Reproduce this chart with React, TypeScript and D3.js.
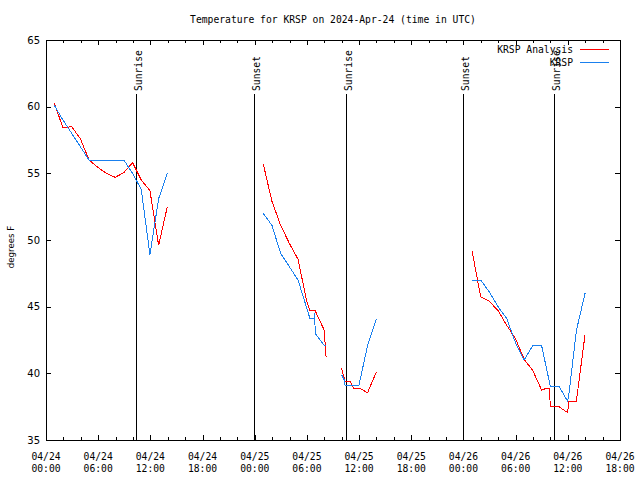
import React from "react";
import * as d3 from "d3";

const chartTitle = "Temperature for KRSP on 2024-Apr-24 (time in UTC)";
const yAxisLabel = "degrees F";
const seriesNames = ["KRSP Analysis", "KRSP"];
const seriesColors = ["#ff0000", "#1a80ee"];

// hours since 2024-04-24 00:00 UTC; null temperature = gap in the record
const analysisHours = [
  0.95, 1.95, 2.95, 3.95, 4.95, 5.95, 6.95, 7.95, 8.95, 9.95, 10.95, 11.95, 12.95, 13.95,
  19,
  24.98, 25.98, 26.98, 27.98, 28.98, 29.98, 30.35, 30.95, 31.98, 32.2,
  33,
  33.98, 34.3, 34.38, 34.98, 35.35, 35.98, 36.98, 37.98,
  43,
  48.98, 49.98, 50.98, 51.98, 52.98, 53.98, 54.98, 55.98, 56.98, 57.45, 57.9, 57.98, 58.98, 59.98, 60.1, 60.98, 61.98,
];
const analysisTemps = [
  60.3, 58.4, 58.5, 57.6, 56.0, 55.45, 55.0, 54.7, 55.05, 55.8, 54.5, 53.7, 49.6, 52.5,
  null,
  55.7, 52.9, 51.1, 49.75, 48.55, 45.4, 44.7, 44.7, 43.25, 41.25,
  null,
  40.4, 39.6, 39.4, 39.4, 38.9, 38.9, 38.55, 40.1,
  null,
  49.2, 45.75, 45.4, 44.7, 43.6, 42.6, 41.05, 40.2, 38.75, 38.85, 38.85, 37.5, 37.5, 37.05, 37.9, 37.9, 42.9,
];

const obsHours = [
  0.95, 1.95, 2.95, 3.95, 4.95, 5.95, 6.95, 7.95, 8.95, 9.95, 10.95, 11.95, 12.95, 13.95,
  19,
  24.98, 25.98, 26.98, 27.98, 28.98, 29.98, 30.35, 30.84, 30.9, 30.95, 31.98, 32.2,
  33,
  33.98, 34.3, 34.38, 34.98, 35.98, 36.98, 37.98,
  43,
  48.98, 49.98, 50.98, 51.98, 52.98, 53.98, 54.98, 55.98, 56.98, 57.98, 58.98, 59.98, 60.1, 60.98, 61.98,
];
const obsTemps = [
  60.1, 59.0, 58.0, 57.0, 56.0, 56.0, 56.0, 56.0, 56.0, 55.0, 53.8, 48.9, 53.1, 55.0,
  null,
  52.0, 51.1, 49.0, 48.0, 47.0, 44.9, 44.1, 44.1, 44.55, 43.0, 42.1, 42.1,
  null,
  39.9, 39.5, 39.1, 39.1, 39.1, 42.1, 44.1,
  null,
  47.0, 47.0, 46.1, 45.0, 44.1, 42.3, 41.0, 42.1, 42.1, 39.05, 39.05, 37.9, 38.3, 43.2, 46.0,
];

const sunEventNames = ["Sunrise", "Sunset", "Sunrise", "Sunset", "Sunrise"];
const sunEventHours = [10.35, 23.92, 34.49, 47.95, 58.41];

const yTickValues = [35, 40, 45, 50, 55, 60, 65];

const MONO = "'DejaVu Sans Mono', 'Liberation Mono', monospace";
const SANS = "'DejaVu Sans', Verdana, sans-serif";

export default function App() {
  const W = 640;
  const H = 480;
  const left = 46;
  const right = 620;
  const top = 40;
  const bottom = 440;

  const t0 = Date.UTC(2024, 3, 24, 0, 0);
  const toDate = (h: number) => new Date(t0 + h * 3600e3);
  const x = d3.scaleUtc().domain([toDate(0), toDate(66)]).range([left, right]);
  const y = d3.scaleLinear().domain([35, 65]).range([bottom, top]);

  const minorTicks = x.ticks(d3.utcHour.every(2) as any);
  const majorTicks = x.ticks(d3.utcHour.every(6) as any);
  const fmtDay = d3.utcFormat("%m/%d");
  const fmtTime = d3.utcFormat("%H:%M");

  const px = (v: number) => Math.round(v) + 0.5;

  type P = { h: number; v: number | null };
  const line = d3
    .line<P>()
    .defined((d) => d.v != null)
    .x((d) => x(toDate(d.h)))
    .y((d) => y(d.v as number));

  const analysisPts: P[] = analysisHours.map((h, i) => ({ h, v: analysisTemps[i] }));
  const obsPts: P[] = obsHours.map((h, i) => ({ h, v: obsTemps[i] }));

  const majorLen = 5;
  const minorLen = 3;

  return (
    <svg
      width={W}
      height={H}
      style={{ position: "absolute", left: 0, top: 0, background: "#fff" }}
    >
      <rect x={0} y={0} width={W} height={H} fill="#fff" />
      {/* title */}
      <text
        x={(left + right) / 2}
        y={23}
        textAnchor="middle"
        fontFamily={MONO}
        fontSize={9.7}
        fill="#000"
      >
        {chartTitle}
      </text>

      {/* x ticks (bottom and top) */}
      <g stroke="#000" shapeRendering="crispEdges">
        {minorTicks.map((d, i) => {
          const isMajor = d.getUTCHours() % 6 === 0;
          const len = isMajor ? majorLen : minorLen;
          const xx = px(x(d));
          return (
            <g key={"xt" + i}>
              <line x1={xx} x2={xx} y1={bottom} y2={bottom - len} />
              <line x1={xx} x2={xx} y1={top} y2={top + len} />
            </g>
          );
        })}
        {yTickValues.map((v, i) => {
          const yy = px(y(v));
          return (
            <g key={"yt" + i}>
              <line x1={left} x2={left + majorLen} y1={yy} y2={yy} />
              <line x1={right} x2={right - majorLen} y1={yy} y2={yy} />
            </g>
          );
        })}
      </g>

      {/* x tick labels */}
      <g fontFamily={MONO} fontSize={9.7} fill="#000" textAnchor="middle">
        {majorTicks.map((d, i) => (
          <g key={"xl" + i}>
            <text x={x(d)} y={460}>
              {fmtDay(d)}
            </text>
            <text x={x(d)} y={472}>
              {fmtTime(d)}
            </text>
          </g>
        ))}
      </g>

      {/* y tick labels */}
      <g fontFamily={SANS} fontSize={10} fill="#000" textAnchor="end">
        {yTickValues.map((v, i) => (
          <text key={"yl" + i} x={40} y={y(v) + 3.6}>
            {v}
          </text>
        ))}
      </g>

      {/* y axis label */}
      <text
        transform={`translate(14,${247}) rotate(-90)`}
        textAnchor="middle"
        fontFamily={SANS}
        fontSize={8.6}
        fill="#000"
      >
        {yAxisLabel}
      </text>

      {/* sunrise / sunset markers */}
      {sunEventHours.map((h, i) => {
        const xx = px(x(toDate(h)));
        return (
          <g key={"sun" + i}>
            <line
              x1={xx}
              x2={xx}
              y1={94}
              y2={bottom}
              stroke="#000"
              shapeRendering="crispEdges"
            />
            <text
              transform={`translate(${xx + 5},91) rotate(-90)`}
              fontFamily={MONO}
              fontSize={9.7}
              fill="#000"
            >
              {sunEventNames[i]}
            </text>
          </g>
        );
      })}

      {/* data lines */}
      <path
        d={line(analysisPts) || ""}
        fill="none"
        stroke={seriesColors[0]}
        strokeWidth={1}
        shapeRendering="crispEdges"
      />
      <path
        d={line(obsPts) || ""}
        fill="none"
        stroke={seriesColors[1]}
        strokeWidth={1}
        shapeRendering="crispEdges"
      />

      {/* legend */}
      {seriesNames.map((name, i) => {
        const ly = 49 + i * 13;
        return (
          <g key={"lg" + i}>
            <text
              x={573}
              y={ly + 4}
              textAnchor="end"
              fontFamily={MONO}
              fontSize={9.7}
              fill="#000"
            >
              {name}
            </text>
            <line
              x1={580}
              x2={609}
              y1={ly + 0.5}
              y2={ly + 0.5}
              stroke={seriesColors[i]}
              shapeRendering="crispEdges"
            />
          </g>
        );
      })}

      {/* border */}
      <rect
        x={left + 0.5}
        y={top + 0.5}
        width={right - left}
        height={bottom - top}
        fill="none"
        stroke="#000"
        shapeRendering="crispEdges"
      />
    </svg>
  );
}
